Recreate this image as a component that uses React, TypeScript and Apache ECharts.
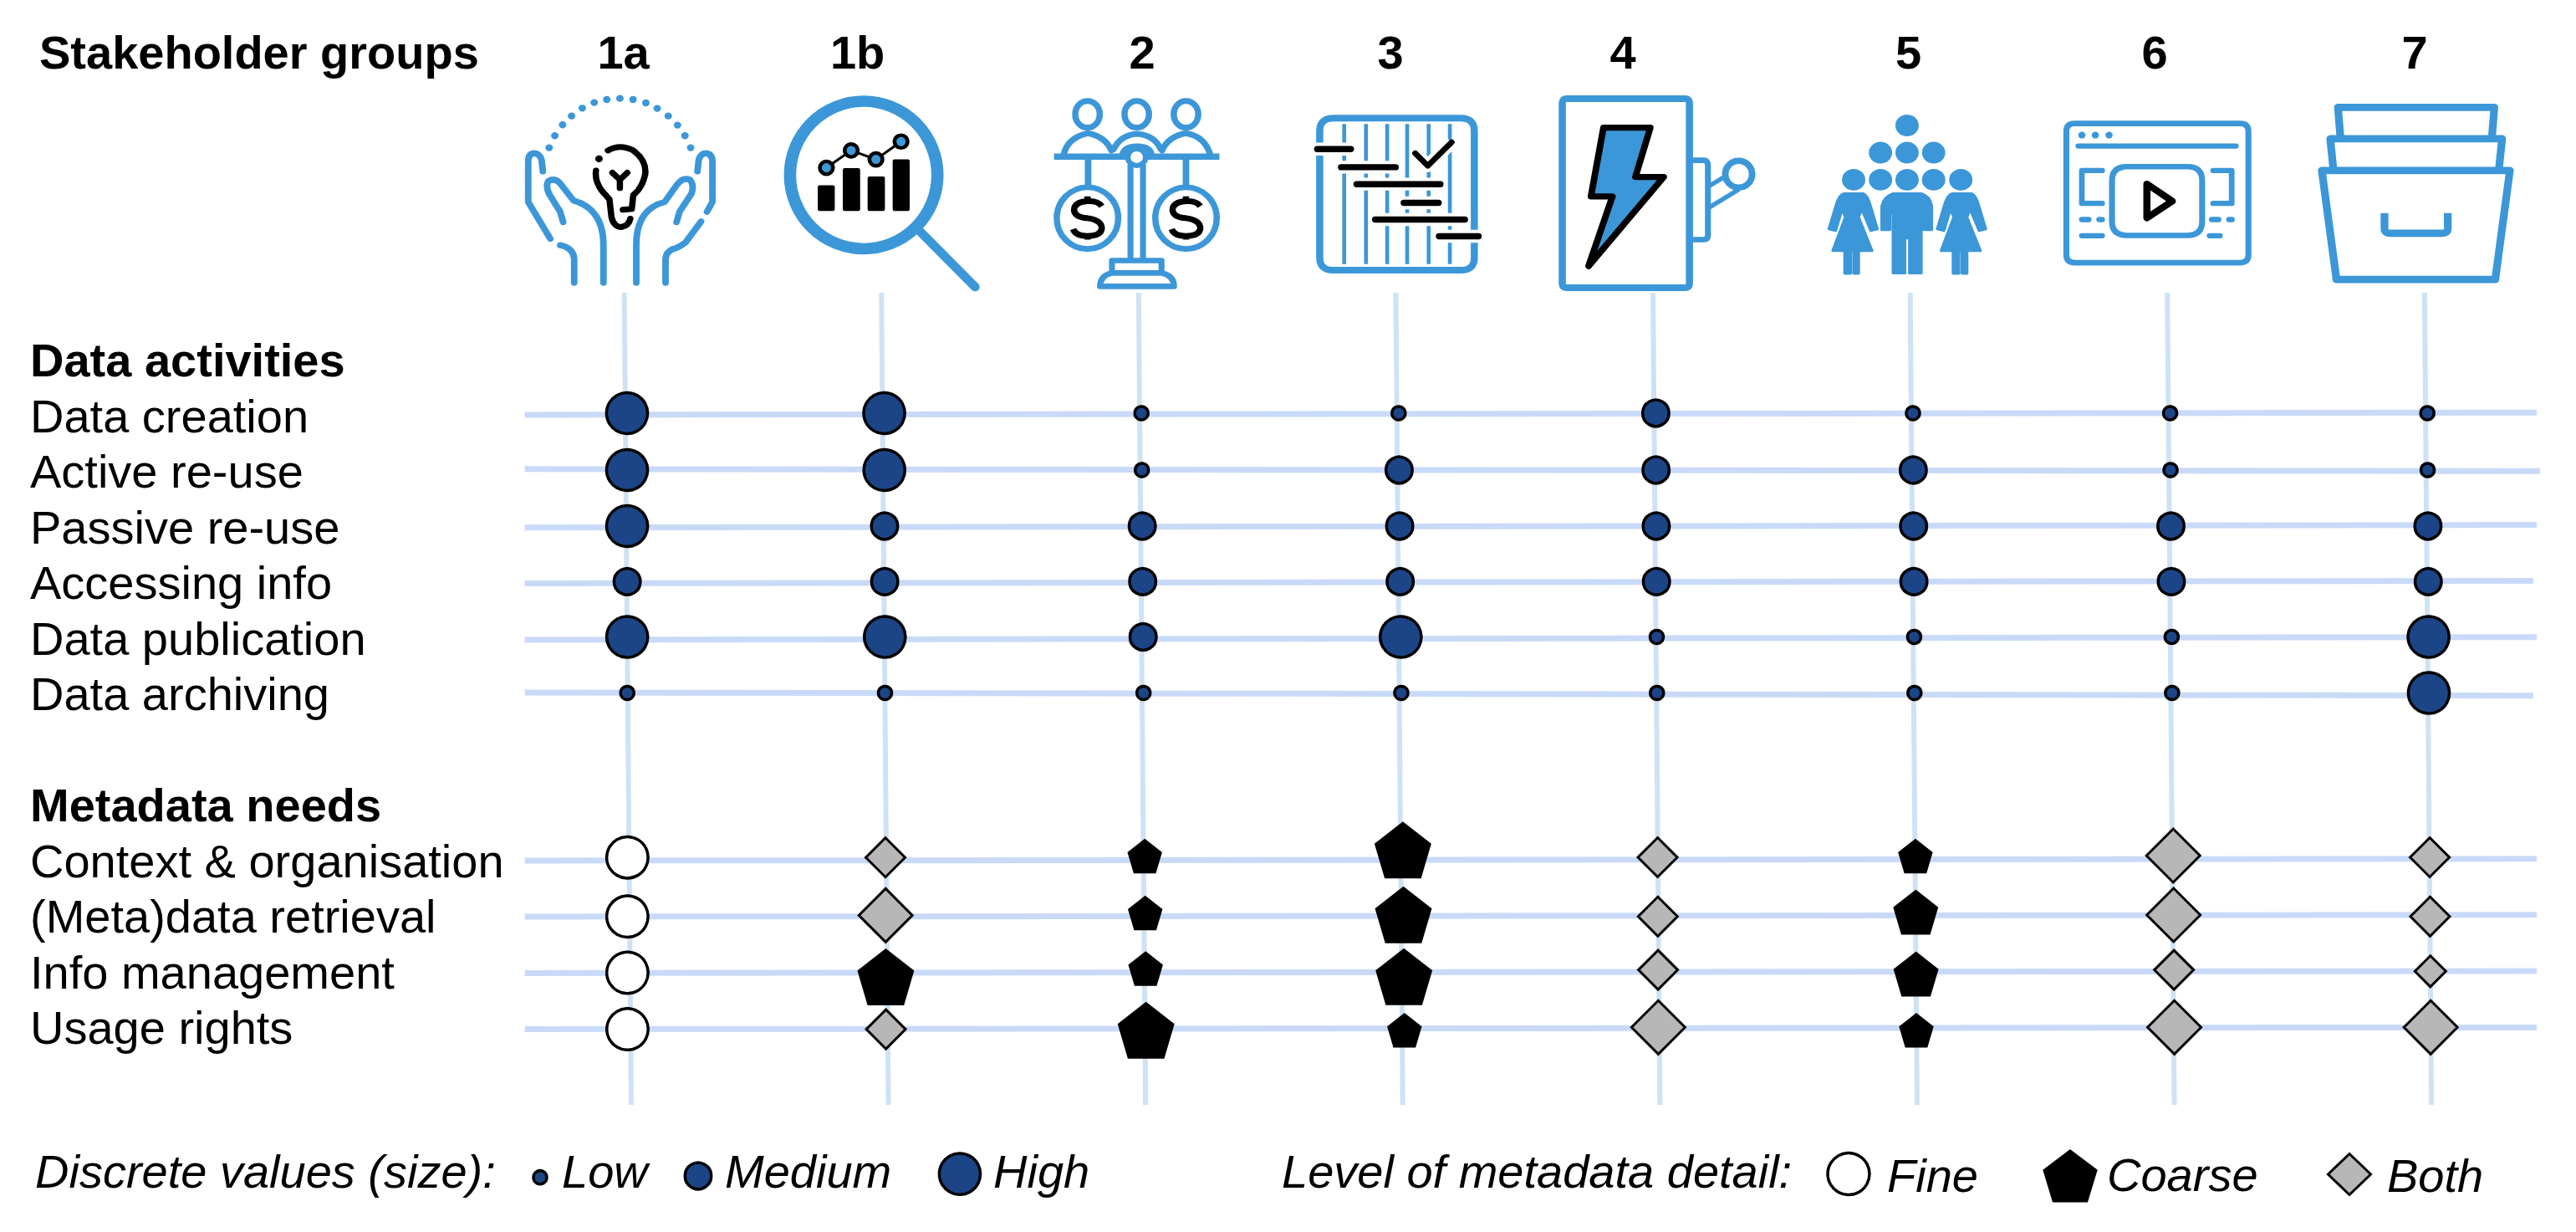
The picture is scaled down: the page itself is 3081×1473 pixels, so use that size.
import React, { useEffect, useRef } from "react";
import * as echarts from "echarts";

// ---------- data ----------
const GROUPS = ["1a", "1b", "2", "3", "4", "5", "6", "7"];
const ACTIVITY_ROWS = ["Data creation", "Active re-use", "Passive re-use", "Accessing info", "Data publication", "Data archiving"];
const META_ROWS = ["Context & organisation", "(Meta)data retrieval", "Info management", "Usage rights"];

// 1 low, 2 medium, 3 high
const DATA_CREATION = [3, 3, 1, 1, 2, 1, 1, 1];
const ACTIVE_REUSE = [3, 3, 1, 2, 2, 2, 1, 1];
const PASSIVE_REUSE = [3, 2, 2, 2, 2, 2, 2, 2];
const ACCESSING_INFO = [2, 2, 2, 2, 2, 2, 2, 2];
const DATA_PUBLICATION = [3, 3, 2, 3, 1, 1, 1, 3];
const DATA_ARCHIVING = [1, 1, 1, 1, 1, 1, 1, 3];

const CONTEXT_KIND = ["Fine", "Both", "Coarse", "Coarse", "Both", "Coarse", "Both", "Both"];
const CONTEXT_SIZE = [2, 2, 1, 3, 2, 1, 3, 2];
const RETRIEVAL_KIND = ["Fine", "Both", "Coarse", "Coarse", "Both", "Coarse", "Both", "Both"];
const RETRIEVAL_SIZE = [2, 3, 1, 3, 2, 2, 3, 2];
const INFO_KIND = ["Fine", "Coarse", "Coarse", "Coarse", "Both", "Coarse", "Both", "Both"];
const INFO_SIZE = [2, 3, 1, 3, 2, 2, 2, 1];
const USAGE_KIND = ["Fine", "Both", "Coarse", "Coarse", "Both", "Coarse", "Both", "Both"];
const USAGE_SIZE = [2, 2, 3, 1, 3, 1, 3, 3];

// ---------- layout / style ----------
const W = 3081;
const H = 1473;
const COL_PX = 307.6;
const ROW_PX = 66.8;
const X0 = 748.5;
const Y0 = 494;
const FONT = '"Liberation Sans", Arial, sans-serif';
const FS = 56;
const BLUE = "#3c97d8";
const NAVY = "#1c4587";
const H_LINE = "#c9daf8";
const V_LINE = "#cfe2f3";
const GREY = "#b7b7b7";

const MARKER_SHIFT_PX = 1.5;
const DRIFT_PX = [0.5, 2, 5.5, 7, 3, 4, 5, 4];
const ACT_NUDGE = [0, 1.2, 1.4, 1, 0.3, 0.5];
const META_NUDGE = [
  [-3.2, -3.2, -4.7, -11.9, -3.4, -4.7, -5.4, -3.4],
  [0.6, -0.8, -3.5, -1.2, 0.6, -4.4, -1.2, 0.6],
  [1, 6.2, -3.8, 6, -2.4, 2.8, -2.4, -0.7],
  [1.8, 1.8, 3.2, 3.2, -0.5, 3.2, -0.5, -0.5],
];
const H_LINE_ROWS = [0, 1, 2, 3, 4, 5, 8, 9, 10, 11];
const H_LEFT_TILT = [0.03, 0, 0.046, 0.046, 0.057, 0, 0.009, 0.012, 0.022, 0.025];
const H_RIGHT_TILT = [-0.01, 0.037, 0, 0, 0.007, 0.055, -0.025, -0.022, -0.015, -0.006];
const H_RIGHT_END = [7.43, 7.443, 7.43, 7.417, 7.43, 7.417, 7.43, 7.43, 7.43, 7.43];
const H_LEFT_END = -0.393;

const CIRCLE_SIZE = [0, 16, 31.5, 49.2];
const BOTH_SIZE = [0, 37, 47, 64];
const COARSE_SIZE = [0, 38, 50.5, 64.5];
const FINE_SIZE = 49.5;
const PENTAGON = "path://M50 0L100 39L82 100L18 100L0 39Z";

const HEADER_X = [745.6, 1025.6, 1366, 1663, 1941, 2282.6, 2577, 2888];

// ---------- icons, in units of a crop origin (scaled 1/2.8, 1/3) ----------
type Part = { d: string; stroke?: string; fill?: string; w?: number; cap?: string };
const ell = (cx: number, cy: number, rx: number, ry: number) =>
  `M${cx - rx} ${cy}A${rx} ${ry} 0 1 1 ${cx + rx} ${cy}A${rx} ${ry} 0 1 1 ${cx - rx} ${cy}Z`;
const rr = (x0: number, y0: number, x1: number, y1: number, r: number) =>
  `M${x0 + r} ${y0}L${x1 - r} ${y0}Q${x1} ${y0} ${x1} ${y0 + r}L${x1} ${y1 - r}Q${x1} ${y1} ${x1 - r} ${y1}L${x0 + r} ${y1}Q${x0} ${y1} ${x0} ${y1 - r}L${x0} ${y0 + r}Q${x0} ${y0} ${x0 + r} ${y0}Z`;
const dots = (pts: number[][]) => pts.map(([x, y]) => `M${x} ${y}L${x + 0.2} ${y}`).join("");
const dollar = (dx: number) =>
  `M${218 + dx} 440Q${205 + dx} 420 ${170 + dx} 422Q${125 + dx} 425 ${125 + dx} 455Q${128 + dx} 480 ${170 + dx} 483Q${218 + dx} 490 ${218 + dx} 520Q${215 + dx} 547 ${170 + dx} 547Q${130 + dx} 547 ${122 + dx} 522M${170 + dx} 405L${170 + dx} 422M${170 + dx} 547L${170 + dx} 560`;
const woman = (dx: number) =>
  `M${995 + dx} 395L${1060 + dx} 395Q${1075 + dx} 400 ${1085 + dx} 440L${1108 + dx} 522L${1085 + dx} 528L${1055 + dx} 450L${1045 + dx} 480L${1090 + dx} 600L${1045 + dx} 600L${1045 + dx} 682L${1028 + dx} 682L${1028 + dx} 600L${1018 + dx} 600L${1018 + dx} 682L${998 + dx} 682L${998 + dx} 600L${958 + dx} 600L${1000 + dx} 480L${990 + dx} 450L${968 + dx} 528L${945 + dx} 522L${968 + dx} 440Q${978 + dx} 400 ${995 + dx} 395Z`;

const ICONS: { ox: number; parts: Part[] }[] = [
  {
    ox: 620,
    parts: [
      {
        d: "M82 315L78 275Q72 250 52 250Q33 252 33 280L33 425L107 557M140 580Q185 590 187 630L187 715M150 497L140 460L105 400Q90 370 100 350Q125 335 145 365L185 420Q285 450 285 580L285 715M600 315L604 275Q610 250 628 250Q650 252 650 280L650 425L632 460M612 495L560 570Q535 590 515 595Q495 605 493 630L493 715M530 497L540 460L580 395Q590 365 575 345Q550 335 530 365L490 425Q395 450 395 580L395 715",
        stroke: BLUE,
        w: 22,
      },
      {
        d: dots([[103, 230], [122, 187], [148, 148], [178, 116], [214, 88], [254, 68], [296, 57], [340, 53], [384, 57], [427, 69], [465, 89], [502, 116], [533, 149], [558, 187], [577, 230]]),
        stroke: BLUE,
        w: 25,
      },
      {
        d: "M300 240Q340 215 385 240Q430 275 425 325Q415 375 385 400L380 450L350 453M260 312Q255 350 280 385L305 415L312 480Q320 515 345 515Q370 510 375 485M315 320L340 345L365 320M340 345L340 375",
        stroke: "#000",
        w: 21,
      },
      { d: dots([[270, 270]]), stroke: "#000", w: 25 },
    ],
  },
  {
    ox: 620,
    parts: [
      { d: ell(1157, 328, 247, 265), stroke: BLUE, w: 41 },
      { d: "M1345 530L1530 730", stroke: BLUE, w: 31 },
      { d: rr(1003, 365, 1060, 457, 6) + rr(1087, 303, 1145, 457, 6) + rr(1170, 333, 1228, 457, 6) + rr(1254, 272, 1311, 457, 6), fill: "#000" },
      { d: "M1032 302L1115 240L1198 272L1282 208", stroke: "#000", w: 9 },
      { d: ell(1032, 302, 22, 23) + ell(1115, 240, 22, 23) + ell(1198, 272, 22, 23) + ell(1282, 208, 22, 23), stroke: "#000", fill: BLUE, w: 13 },
    ],
  },
  {
    ox: 1240,
    parts: [
      {
        d: ell(170, 110, 41, 48) + ell(335, 110, 41, 48) + ell(500, 110, 41, 48) +
          "M90 258Q100 195 170 178Q230 190 250 240M258 235Q280 185 335 180Q395 185 415 235M420 240Q440 190 500 178Q565 190 582 258M285 262Q290 225 335 225Q385 225 385 262",
        stroke: BLUE,
        w: 21,
      },
      { d: "M58 262L612 262M172 270L172 365M500 270L500 365", stroke: BLUE, w: 22, cap: "butt" },
      { d: "M314 290L314 630M356 290L356 630", stroke: BLUE, w: 20, cap: "butt" },
      { d: ell(335, 264, 30, 30), stroke: BLUE, fill: "#fff", w: 18 },
      { d: ell(170, 483, 103, 111) + ell(500, 483, 103, 111), stroke: BLUE, w: 21 },
      { d: rr(252, 635, 418, 680, 0) + "M212 728Q212 690 250 680L420 680Q460 690 460 728Z", stroke: BLUE, w: 20 },
      { d: dollar(0) + dollar(330), stroke: "#000", w: 21, cap: "butt" },
    ],
  },
  {
    ox: 1240,
    parts: [
      { d: "M948 170Q948 124 995 124L1420 124Q1466 124 1466 170L1466 625Q1466 670 1420 670L995 670Q948 670 948 625Z", stroke: BLUE, w: 24 },
      { d: "M1030 145L1030 648M1103 145L1103 648M1174 145L1174 648M1241 145L1241 648M1313 145L1313 648M1384 145L1384 648", stroke: BLUE, w: 13, cap: "butt" },
      { d: "M930 235L1072 235M1000 300L1222 300M1052 361L1372 361M1210 428L1366 428M1114 488L1454 488M1328 548L1500 548M1268 250L1310 295L1390 210", stroke: "#fff", w: 46, cap: "butt" },
      { d: "M940 235L1052 235M1020 300L1202 300M1072 361L1352 361M1230 428L1346 428M1134 488L1434 488M1348 548L1480 548", stroke: "#000", w: 22 },
      { d: "M1268 250L1310 295L1390 210", stroke: "#000", w: 20 },
    ],
  },
  {
    ox: 1850,
    parts: [
      { d: rr(52, 54, 478, 733, 15), stroke: BLUE, w: 24 },
      { d: "M490 275L525 275Q540 275 540 295L540 545Q540 560 525 560L490 560", stroke: BLUE, w: 20 },
      { d: ell(643, 325, 45, 48), stroke: BLUE, w: 22 },
      { d: "M548 365L600 332M548 442L640 382", stroke: BLUE, w: 16 },
      { d: "M190 158L347 158L297 335L392 335L140 655L220 405L148 405Z", stroke: "#000", fill: BLUE, w: 22 },
    ],
  },
  {
    ox: 1850,
    parts: [
      { d: dots([[1207, 150], [1118, 248], [1207, 248], [1296, 248], [1028, 345], [1118, 345], [1207, 345], [1296, 345], [1387, 345]]), stroke: BLUE, w: 78 },
      {
        d: "M1160 395L1255 395Q1285 405 1290 440L1290 525L1262 525L1262 465L1255 465L1255 680L1215 680L1215 555L1200 555L1200 680L1160 680L1160 465L1150 465L1150 525L1122 525L1122 440Q1130 405 1160 395Z" + woman(0) + woman(363),
        fill: BLUE,
        stroke: BLUE,
        w: 9,
      },
    ],
  },
  {
    ox: 2450,
    parts: [
      { d: rr(60, 143, 670, 643, 28) + rr(213, 298, 515, 545, 50), stroke: BLUE, w: 20 },
      { d: dots([[112, 185], [157, 185], [203, 185]]), stroke: BLUE, w: 24 },
      { d: "M100 224L628 224M180 312L112 312L112 430L180 430M552 312L614 312L614 430L552 430M112 488L135 488M170 488L180 488M112 546L180 546M547 488L570 488M605 488L615 488M540 546L575 546", stroke: BLUE, w: 19 },
      { d: "M330 360L415 422L330 482Z", stroke: "#000", w: 24 },
    ],
  },
  {
    ox: 2450,
    parts: [
      { d: "M916 312L1546 312L1497 703L965 703Z", stroke: BLUE, w: 26 },
      { d: "M954 300L944 198L1520 198L1510 300M978 190L970 85L1494 85L1486 190", stroke: BLUE, w: 26 },
      { d: "M1126 465L1126 520Q1126 537 1145 537L1320 537Q1338 537 1338 520L1338 465", stroke: BLUE, w: 26, cap: "butt" },
    ],
  },
];

const iconElements: any[] = [];
ICONS.forEach((icon, i) => {
  icon.parts.forEach((p, j) => {
    const name = `icon_${i}_${j}`;
    echarts.graphic.registerShape(name, (echarts.graphic as any).extendPath(p.d, {}));
    iconElements.push({
      type: name,
      x: icon.ox,
      y: 100,
      scaleX: 1 / 2.8,
      scaleY: 1 / 3,
      silent: true,
      style: {
        fill: p.fill || "none",
        stroke: p.stroke || "none",
        lineWidth: p.w || 0,
        lineCap: p.cap || "round",
        lineJoin: "round",
      },
    });
  });
});

// ---------- helpers ----------
const text = (str: string, x: number, baseline: number, o: any = {}) => ({
  type: "text",
  silent: true,
  style: {
    text: str,
    x,
    y: baseline - 0.3465 * FS,
    fill: "#000",
    fontSize: FS,
    fontFamily: FONT,
    textAlign: o.align || "left",
    verticalAlign: "middle",
    fontWeight: o.bold ? "bold" : "normal",
    fontStyle: o.italic ? "italic" : "normal",
  },
});
const dot = (cx: number, cy: number, d: number, fill: string) => ({
  type: "circle",
  silent: true,
  shape: { cx, cy, r: d / 2 },
  style: { fill, stroke: "#000", lineWidth: 3.5 },
});
const legendPentagon = (cx: number, cy: number, w: number, h: number) => ({
  type: "polygon",
  silent: true,
  shape: {
    points: [
      [cx, cy - h / 2],
      [cx + w / 2, cy - h / 2 + 0.39 * h],
      [cx + 0.32 * w, cy + h / 2],
      [cx - 0.32 * w, cy + h / 2],
      [cx - w / 2, cy - h / 2 + 0.39 * h],
    ],
  },
  style: { fill: "#000", stroke: "#000", lineWidth: 3 },
});
const legendDiamond = (cx: number, cy: number, w: number, h: number) => ({
  type: "polygon",
  silent: true,
  shape: { points: [[cx, cy - h / 2], [cx + w / 2, cy], [cx, cy + h / 2], [cx - w / 2, cy]] },
  style: { fill: GREY, stroke: "#000", lineWidth: 3 },
});

function buildOption() {
  const activityRows = [DATA_CREATION, ACTIVE_REUSE, PASSIVE_REUSE, ACCESSING_INFO, DATA_PUBLICATION, DATA_ARCHIVING];
  const metaRows = [
    { kinds: CONTEXT_KIND, sizes: CONTEXT_SIZE },
    { kinds: RETRIEVAL_KIND, sizes: RETRIEVAL_SIZE },
    { kinds: INFO_KIND, sizes: INFO_SIZE },
    { kinds: USAGE_KIND, sizes: USAGE_SIZE },
  ];
  const colX = (c: number, k: number) => c + (MARKER_SHIFT_PX + (DRIFT_PX[c] * k) / 11) / COL_PX;

  const activityData: number[][] = [];
  activityRows.forEach((row, r) =>
    row.forEach((lvl, c) => activityData.push([colX(c, r), r + ACT_NUDGE[r] / ROW_PX, lvl]))
  );
  const metaData: Record<string, number[][]> = { Fine: [], Coarse: [], Both: [] };
  metaRows.forEach((row, r) =>
    row.kinds.forEach((kind, c) =>
      metaData[kind].push([colX(c, 8 + r), 8 + r + META_NUDGE[r][c] / ROW_PX, row.sizes[c]])
    )
  );

  const labels: Record<number, string> = { [-1]: "{h|Data activities}", 7: "{h|Metadata needs}" };
  ACTIVITY_ROWS.forEach((t, i) => (labels[i] = t));
  META_ROWS.forEach((t, i) => (labels[8 + i] = t));

  const series: any[] = [];
  GROUPS.forEach((g, c) =>
    series.push({
      name: `line ${g}`,
      type: "line",
      silent: true,
      showSymbol: false,
      z: 1,
      lineStyle: { color: V_LINE, width: 6 },
      data: [[c - 0.006, -2.156], [c + 0.021, 12.38]],
    })
  );
  H_LINE_ROWS.forEach((k, i) =>
    series.push({
      name: `row ${k}`,
      type: "line",
      silent: true,
      showSymbol: false,
      z: 2,
      lineStyle: { color: H_LINE, width: 7 },
      data: [[H_LEFT_END, k + H_LEFT_TILT[i]], [H_RIGHT_END[i], k + H_RIGHT_TILT[i]]],
    })
  );
  const mark = (name: string, data: number[][], symbol: string, size: (l: number) => number, fill: string, bw: number) => ({
    name,
    type: "scatter",
    z: 5,
    symbol,
    symbolSize: (v: number[]) => size(v[2]),
    symbolKeepAspect: false,
    itemStyle: { color: fill, borderColor: "#000", borderWidth: bw, borderJoin: "miter", opacity: 1 },
    data,
  });
  series.push(mark("Activity", activityData, "circle", (l) => CIRCLE_SIZE[l], NAVY, 3.5));
  series.push(mark("Fine", metaData.Fine, "circle", () => FINE_SIZE, "#fff", 3.5));
  series.push(mark("Coarse", metaData.Coarse, PENTAGON, (l) => COARSE_SIZE[l], "#000", 3));
  series.push(mark("Both", metaData.Both, "diamond", (l) => BOTH_SIZE[l], GREY, 3));

  const gridBase = { left: X0 - 1.5 * COL_PX, width: 9 * COL_PX, height: 16 * ROW_PX };
  const hiddenX = { type: "value", min: -1.5, max: 7.5, show: false };

  const headerBase = 81.7;
  const legendBase = 1420.4;
  return {
    animation: false,
    backgroundColor: "#fff",
    grid: [
      { ...gridBase, top: Y0 - 3 * ROW_PX },
      { ...gridBase, top: Y0 - 3 * ROW_PX + 4.2 },
    ],
    xAxis: [
      { ...hiddenX, gridIndex: 0 },
      { ...hiddenX, gridIndex: 1 },
    ],
    yAxis: [
      { type: "value", gridIndex: 0, min: -3, max: 13, inverse: true, show: false },
      {
        type: "value",
        gridIndex: 1,
        min: -3,
        max: 13.077,
        interval: 1,
        inverse: true,
        splitLine: { show: false },
        axisLine: { show: false },
        axisTick: { show: false },
        axisLabel: {
          show: true,
          align: "left",
          margin: gridBase.left - 36,
          color: "#000",
          fontFamily: FONT,
          fontSize: FS,
          showMaxLabel: false,
          showMinLabel: false,
          formatter: (v: number) => labels[v] || "",
          rich: { h: { fontFamily: FONT, fontSize: FS, fontWeight: "bold", color: "#000" } },
        },
      },
    ],
    series,
    graphic: {
      elements: [
        text("Stakeholder groups", 47, headerBase, { bold: true }),
        ...GROUPS.map((g, c) => text(g, HEADER_X[c], headerBase, { bold: true, align: "center" })),
        ...iconElements,
        text("Discrete values (size):", 42, legendBase, { italic: true }),
        dot(646, 1407.7, 16, NAVY),
        text("Low", 672, legendBase, { italic: true }),
        dot(835, 1406, 31.5, NAVY),
        text("Medium", 867, legendBase, { italic: true }),
        dot(1148, 1403.6, 49.2, NAVY),
        text("High", 1188, legendBase, { italic: true }),
        text("Level of metadata detail:", 1533, legendBase, { italic: true }),
        dot(2211, 1403.6, 50, "#fff"),
        text("Fine", 2257, 1425.4, { italic: true }),
        legendPentagon(2476, 1406, 62, 60),
        text("Coarse", 2520, 1423.7, { italic: true }),
        legendDiamond(2810, 1404, 51, 49),
        text("Both", 2855, 1425.4, { italic: true }),
      ],
    },
  };
}

export default function App() {
  const ref = useRef<HTMLDivElement>(null);
  useEffect(() => {
    document.body.style.margin = "0";
    const chart = echarts.init(ref.current!, undefined, { renderer: "svg" });
    chart.setOption(buildOption() as any);
    return () => chart.dispose();
  }, []);
  return <div ref={ref} style={{ width: W, height: H, position: "absolute", left: 0, top: 0 }} />;
}
